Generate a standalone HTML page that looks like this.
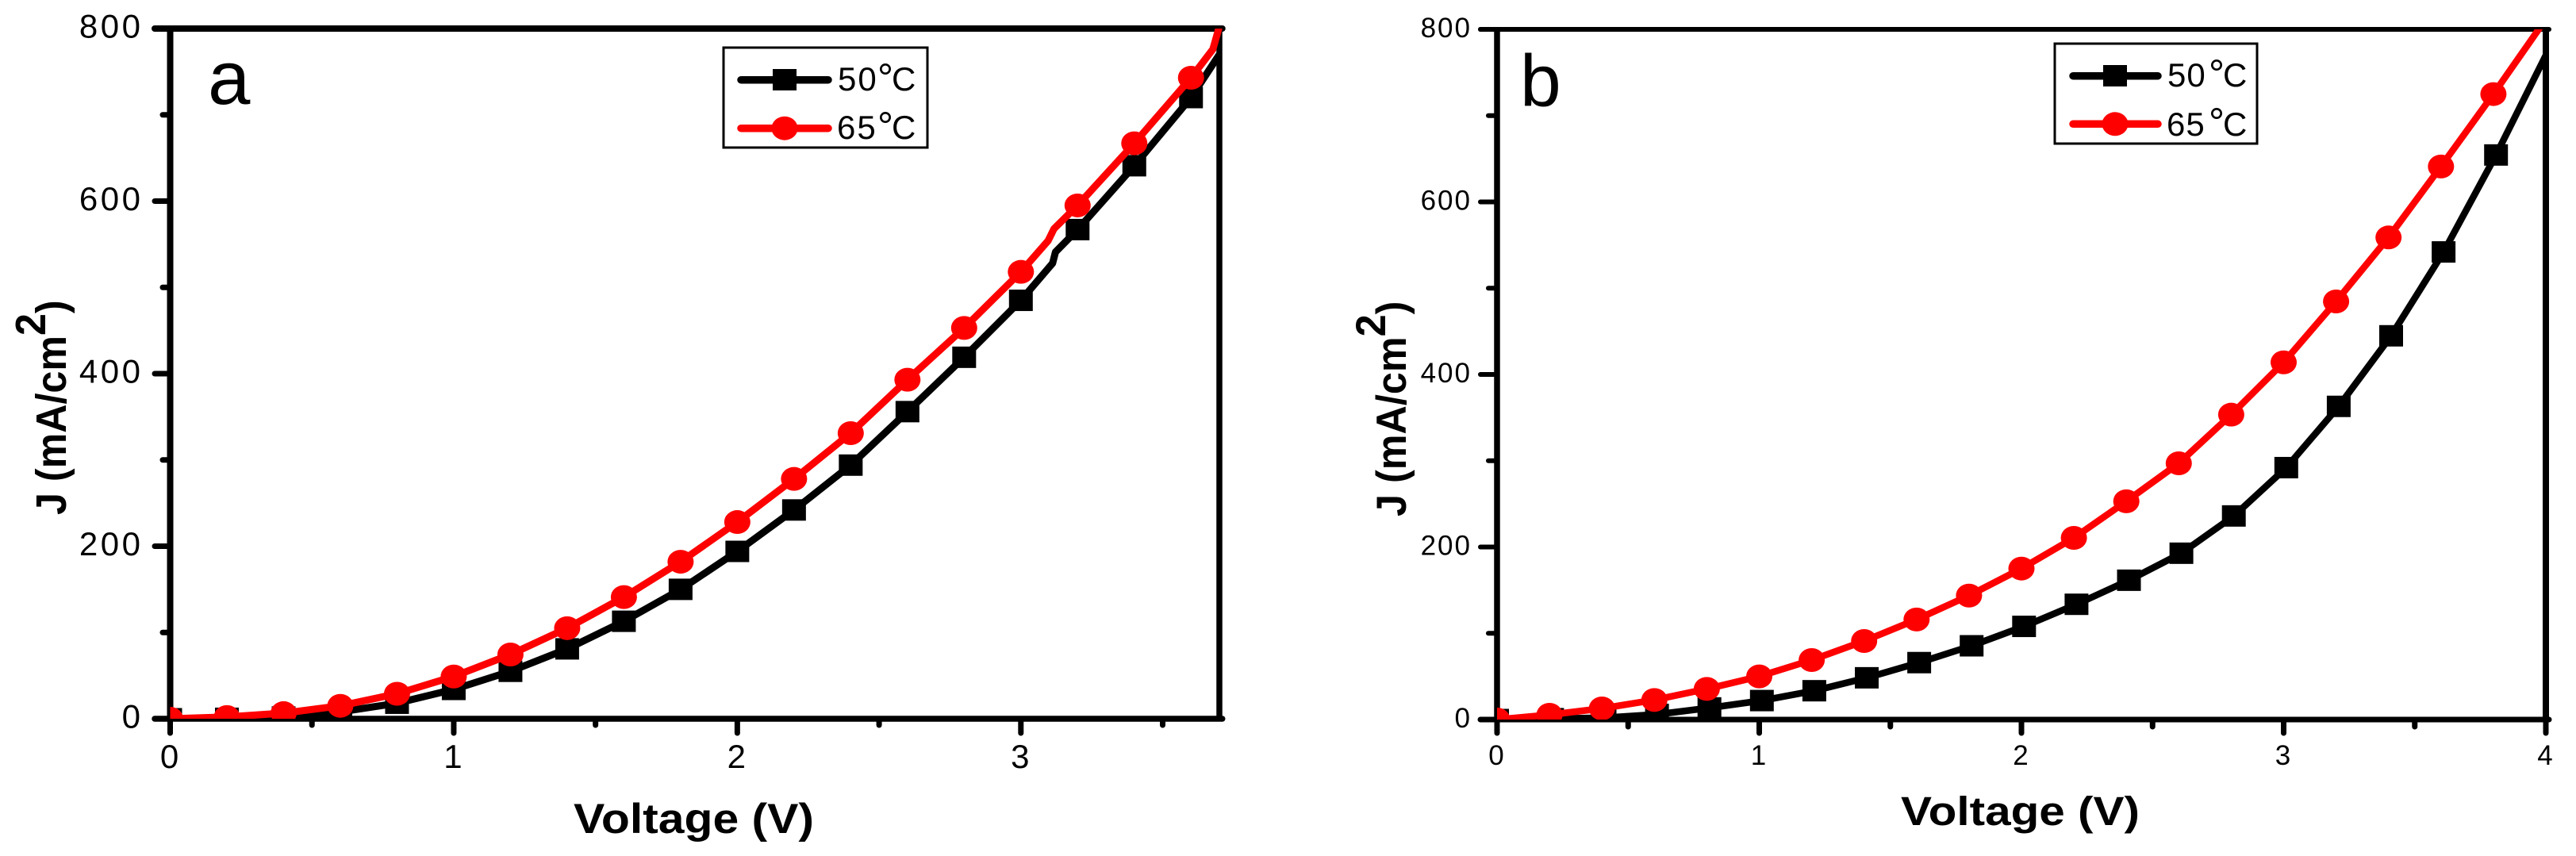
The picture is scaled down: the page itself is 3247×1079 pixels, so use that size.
<!DOCTYPE html>
<html lang="en">
<head>
<meta charset="utf-8">
<title>J-V curves at 50°C and 65°C</title>
<style>
html,body{margin:0;padding:0;background:#fff;width:3247px;height:1079px;overflow:hidden}
svg{display:block}
text{font-family:"Liberation Sans",sans-serif;fill:#000}
</style>
</head>
<body>
<svg id="figure" xmlns="http://www.w3.org/2000/svg" width="3247" height="1079" viewBox="0 0 3247 1079">
  <rect x="0" y="0" width="3247" height="1079" fill="#fff"/>
  <g id="panel-a">
    <text x="262" y="131" font-size="96">a</text>
    <text x="723" y="1050" font-size="53" font-weight="bold" textLength="303" lengthAdjust="spacingAndGlyphs">Voltage (V)</text>
    <text transform="translate(83,649) rotate(-90) scale(.93,1)" font-size="54" font-weight="bold">J (mA/cm<tspan dy="-26">2</tspan><tspan dy="26">)</tspan></text>
  </g>
  <g id="panel-b">
    <text x="1916" y="134" font-size="93">b</text>
    <text x="2396" y="1040" font-size="51" font-weight="bold" textLength="301" lengthAdjust="spacingAndGlyphs">Voltage (V)</text>
    <text transform="translate(1772,651) rotate(-90) scale(.95,1)" font-size="53" font-weight="bold">J (mA/cm<tspan dy="-26">2</tspan><tspan dy="26">)</tspan></text>
  </g>
  <g id="legend-a">
    <rect x="912" y="60" width="257" height="126" fill="#fff" stroke="#000" stroke-width="3"/>
    <line x1="934" y1="100.7" x2="1044" y2="100.7" stroke="#000" stroke-width="9.5" stroke-linecap="round"/>
    <rect x="974" y="87" width="30" height="27" fill="#000"/>
    <text x="1056" y="114" font-size="42" style="letter-spacing:2px">50</text>
    <text x="1106" y="115" font-size="50">°</text>
    <text x="1124" y="114" font-size="42">C</text>
    <line x1="934" y1="161.7" x2="1044" y2="161.7" stroke="#f00" stroke-width="9.5" stroke-linecap="round"/>
    <ellipse cx="989" cy="161.7" rx="16.5" ry="15" fill="#f00"/>
    <text x="1055" y="175" font-size="42" style="letter-spacing:2px">65</text>
    <text x="1106" y="176" font-size="50">°</text>
    <text x="1124" y="175" font-size="42">C</text>
  </g>
  <g id="legend-b">
    <rect x="2590" y="55" width="255" height="126" fill="#fff" stroke="#000" stroke-width="3"/>
    <line x1="2613" y1="95.7" x2="2720" y2="95.7" stroke="#000" stroke-width="9.5" stroke-linecap="round"/>
    <rect x="2651" y="82" width="30" height="27" fill="#000"/>
    <text x="2732" y="109" font-size="42" style="letter-spacing:1px">50</text>
    <text x="2784" y="110" font-size="50">°</text>
    <text x="2802" y="109" font-size="42">C</text>
    <line x1="2613" y1="156.3" x2="2720" y2="156.3" stroke="#f00" stroke-width="9.5" stroke-linecap="round"/>
    <ellipse cx="2666" cy="156.3" rx="16.5" ry="15" fill="#f00"/>
    <text x="2731" y="171" font-size="42" style="letter-spacing:1px">65</text>
    <text x="2784" y="171" font-size="50">°</text>
    <text x="2802" y="171" font-size="42">C</text>
  </g>
</svg>
<script>
/* Panel a data */
const aVoltage50 = [0,0.2,0.4,0.6,0.8,1,1.2,1.4,1.6,1.8,2,2.2,2.4,2.6,2.8,3,3.112,3.122,3.2,3.4,3.6,3.7];
const aCurrent50 = [0,0.5,2,8,18,34,55,81,113,150,194,242,294,356,419,485,528,541,567,641,720,770];
const aLineOnly50 = [3.112,3.122,3.7];
const aVoltage65 = [0,0.2,0.4,0.6,0.8,1,1.2,1.4,1.6,1.8,2,2.2,2.4,2.6,2.8,3,3.096,3.117,3.2,3.4,3.6,3.677,3.696,3.7];
const aCurrent65 = [0,2,6.5,15,29,49,74.5,105,141,182,228,278,331,393,453,518,554,568,595,667,743,776,798,805];
const aLineOnly65 = [3.096,3.117,3.677,3.696,3.7];
const aXMajor = [0,1,2,3];
const aXMinor = [0.5,1.5,2.5,3.5];
const aXMax = [3.7];

/* Panel b data */
const bVoltage50 = [0,0.21,0.41,0.61,0.81,1.01,1.21,1.41,1.61,1.81,2.01,2.21,2.41,2.61,2.81,3.01,3.21,3.41,3.61,3.81,4];
const bCurrent50 = [0,1,2,6,13.5,22,33.4,48.4,66,85.5,108,133.6,161.5,192.8,236,292,363,444.8,542,654.4,770];
const bLineOnly50 = [4];
const bVoltage65 = [0,0.2,0.4,0.6,0.8,1,1.2,1.4,1.6,1.8,2,2.2,2.4,2.6,2.8,3,3.2,3.4,3.6,3.8,4];
const bCurrent65 = [0,5.5,12.9,22.7,35.5,50,69,91,116,143.7,175,210.6,253,297,353.4,414,484.6,558.8,641,725,812];
const bLineOnly65 = [4];
const bXMajor = [0,1,2,3,4];
const bXMinor = [0.5,1.5,2.5,3.5];
const bXMax = [4];

/* Shared y axis */
const yMajor = [0,200,400,600,800];
const yMinor = [100,300,500,700];
const yMax = [800];

const NS = 'http://www.w3.org/2000/svg';
function make(parent, tag, attrs) {
  const el = document.createElementNS(NS, tag);
  for (const k in attrs) el.setAttribute(k, attrs[k]);
  parent.appendChild(el);
  return el;
}

function drawPanel(id, p, xMajor, xMinor, xMax, s50, s65) {
  const g = document.getElementById('panel-' + id);
  const xs = v => p.left + v * (p.right - p.left) / xMax;
  const ys = j => p.bottom - j * (p.bottom - p.top) / yMax[0];

  /* axes frame */
  const top = make(g, 'line', {x1: p.yTickEnd, y1: p.top, x2: p.right + p.rw / 2, y2: p.top, stroke: '#000', 'stroke-width': p.topW, 'stroke-linecap': 'round'});
  
  
  const bottom = make(g, 'line', {x1: p.yTickEnd, y1: p.bottom, x2: p.right + p.rw / 2, y2: p.bottom, stroke: '#000', 'stroke-width': p.botW, 'stroke-linecap': 'round'});
  
  
  const left = make(g, 'line', {x1: p.left, y1: p.top, x2: p.left, y2: p.bottom, stroke: '#000', 'stroke-width': p.lw});
  
  
  const right = make(g, 'line', {x1: p.right, y1: p.top, x2: p.right, y2: p.bottom, stroke: '#000', 'stroke-width': p.rw});
  
  

  /* y ticks and labels */
  yMajor.forEach(v => {
    const t = make(g, 'line', {x1: p.yTickEnd, y1: ys(v), x2: p.left, y2: ys(v), stroke: '#000', 'stroke-width': p.tickW, 'stroke-linecap': 'round'});
    
    
    const l = make(g, 'text', {x: p.yLabelX, y: ys(v) + p.yLabelDy, 'font-size': p.labelSize, 'text-anchor': 'end', style: 'letter-spacing:' + p.labelLs + 'px'});
    l.textContent = String(v);
    
    
  });
  yMinor.forEach(v => {
    const t = make(g, 'line', {x1: p.yMinorEnd, y1: ys(v), x2: p.left, y2: ys(v), stroke: '#000', 'stroke-width': p.tickW, 'stroke-linecap': 'round'});
    
    
  });

  /* x ticks and labels */
  xMajor.forEach(v => {
    const t = make(g, 'line', {x1: xs(v), y1: p.bottom, x2: xs(v), y2: p.xTickEnd, stroke: '#000', 'stroke-width': 7, 'stroke-linecap': 'round'});
    
    
    const l = make(g, 'text', {x: xs(v) - 1, y: p.xLabelY, 'font-size': p.labelSize, 'text-anchor': 'middle'});
    l.textContent = String(v);
    
    
  });
  xMinor.forEach(v => {
    const t = make(g, 'line', {x1: xs(v), y1: p.bottom, x2: xs(v), y2: p.xMinorEnd, stroke: '#000', 'stroke-width': 7, 'stroke-linecap': 'round'});
    
    
  });

  /* plot clip */
  const clip = make(g, 'clipPath', {id: 'clip-' + id});
  make(clip, 'rect', {x: p.left, y: p.top, width: p.right - p.left + p.rw / 2, height: p.bottom - p.top});

  /* series */
  [s50, s65].forEach(s => {
    const sg = make(g, 'g', {'clip-path': 'url(#clip-' + id + ')'});
    
    
    const pts = s.v.map((v, i) => xs(v).toFixed(1) + ',' + ys(s.j[i]).toFixed(1)).join(' ');
    const line = make(sg, 'polyline', {points: pts, fill: 'none', stroke: s.color, 'stroke-width': p.lineW, 'stroke-linejoin': 'round'});
    
    
    s.v.forEach((v, i) => {
      if (s.skip.indexOf(v) >= 0) return;
      const cx = xs(v), cy = ys(s.j[i]);
      const m = s.shape === 'square'
        ? make(sg, 'rect', {x: cx - 15, y: cy - 13.5, width: 30, height: 27, fill: s.color})
        : make(sg, 'ellipse', {cx: cx, cy: cy, rx: 16.5, ry: 15, fill: s.color});
      
      
    });
  });
}

drawPanel('a',
  {left: 214.5, right: 1537, top: 36, bottom: 906, lw: 8, rw: 7.5, topW: 8, botW: 7.5, tickW: 7,
   yTickEnd: 195, yMinorEnd: 205, xTickEnd: 924, xMinorEnd: 914,
   yLabelX: 180.5, yLabelDy: 11.5, xLabelY: 968, labelSize: 42, labelLs: 3.5, lineW: 9},
  aXMajor, aXMinor, aXMax[0],
  {name: '50c', v: aVoltage50, j: aCurrent50, skip: aLineOnly50, color: '#000', shape: 'square'},
  {name: '65c', v: aVoltage65, j: aCurrent65, skip: aLineOnly65, color: '#f00', shape: 'circle'});

drawPanel('b',
  {left: 1887, right: 3209, top: 37, bottom: 907, lw: 7.5, rw: 8, topW: 6, botW: 7, tickW: 6,
   yTickEnd: 1866, yMinorEnd: 1876, xTickEnd: 924, xMinorEnd: 916,
   yLabelX: 1855, yLabelDy: 10, xLabelY: 964, labelSize: 35, labelLs: 2, lineW: 8.5},
  bXMajor, bXMinor, bXMax[0],
  {name: '50c', v: bVoltage50, j: bCurrent50, skip: bLineOnly50, color: '#000', shape: 'square'},
  {name: '65c', v: bVoltage65, j: bCurrent65, skip: bLineOnly65, color: '#f00', shape: 'circle'});

/* keep legends above everything */
const fig = document.getElementById('figure');
fig.appendChild(document.getElementById('legend-a'));
fig.appendChild(document.getElementById('legend-b'));
</script>
</body>
</html>
